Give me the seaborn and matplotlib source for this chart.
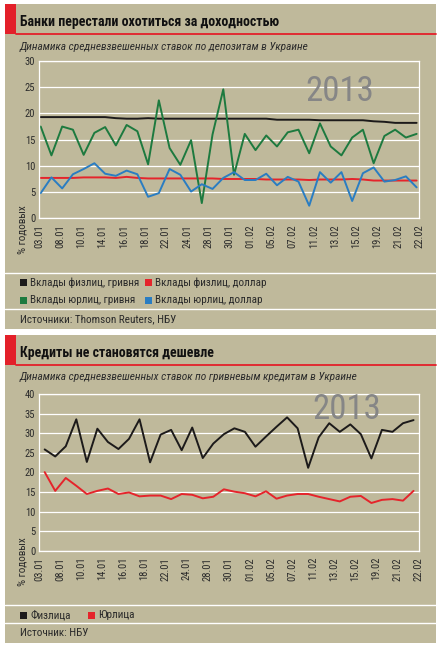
import numpy as np
import pandas as pd
import seaborn as sns
from matplotlib import pyplot as plt
from matplotlib.patches import Rectangle

#--------------------------Data---------------------------------------------
# trading days, 03.01.2013 - 22.02.2013
dates = ['03.01', '04.01', '08.01', '09.01', '10.01', '11.01', '14.01', '15.01',
         '16.01', '17.01', '18.01', '21.01', '22.01', '23.01', '24.01', '25.01',
         '28.01', '29.01', '30.01', '31.01', '01.02', '04.02', '05.02', '06.02',
         '07.02', '08.02', '11.02', '12.02', '13.02', '14.02', '15.02', '18.02',
         '19.02', '20.02', '21.02', '22.02']

tick_labels = ['03.01', '08.01', '10.01', '14.01', '16.01', '18.01', '22.01',
               '24.01', '28.01', '30.01', '01.02', '05.02', '07.02', '11.02',
               '13.02', '15.02', '19.02', '21.02', '22.02']

# chart 1: deposit rates, % annual
dep_fiz_uah = [19.3, 19.3, 19.3, 19.3, 19.3, 19.3, 19.3, 19.1, 19.0, 19.0,
               19.1, 19.0, 19.0, 19.0, 19.0, 19.0, 19.0, 19.0, 19.0, 19.0,
               19.0, 19.0, 18.8, 18.8, 18.8, 18.8, 18.7, 18.7, 18.7, 18.7,
               18.7, 18.5, 18.4, 18.2, 18.2, 18.2]
dep_fiz_usd = [7.7, 7.7, 7.7, 7.7, 7.8, 7.8, 7.8, 7.7, 7.9, 7.7, 7.6, 7.6,
               7.6, 7.6, 7.6, 7.6, 7.6, 7.5, 7.5, 7.5, 7.5, 7.4, 7.4, 7.4,
               7.4, 7.3, 7.4, 7.4, 7.4, 7.5, 7.4, 7.2, 7.2, 7.2, 7.2, 7.2]
dep_yur_uah = [17.5, 12.0, 17.5, 16.9, 12.1, 16.3, 17.4, 13.9, 17.8, 16.6,
               10.3, 22.5, 13.4, 10.2, 14.9, 2.9, 16.0, 24.6, 8.3, 16.1,
               13.0, 15.8, 13.7, 16.4, 16.9, 12.4, 18.1, 13.7, 12.0, 15.4,
               16.9, 10.5, 15.7, 16.9, 15.4, 16.1]
dep_yur_usd = [4.8, 7.8, 5.7, 8.4, 9.4, 10.5, 8.5, 8.1, 9.1, 8.4, 4.1, 4.8,
               9.4, 8.3, 5.1, 6.5, 5.6, 7.7, 8.8, 7.3, 7.3, 8.5, 6.3, 7.9,
               7.0, 2.4, 8.8, 6.8, 8.8, 3.3, 8.6, 9.7, 7.0, 7.3, 8.0, 5.9]

# chart 2: UAH loan rates, % annual
loan_fiz = [25.9, 24.1, 26.7, 33.6, 22.7, 31.2, 27.8, 26.0, 28.6, 33.6,
            22.6, 29.7, 30.9, 25.7, 31.5, 23.7, 27.4, 29.8, 31.3, 30.4,
            26.6, 29.2, 31.7, 34.1, 31.3, 21.2, 29.0, 32.6, 30.4, 32.3,
            29.8, 23.6, 30.9, 30.4, 32.6, 33.4]
loan_yur = [20.1, 15.3, 18.6, 16.6, 14.5, 15.3, 15.9, 14.5, 14.9, 13.9,
            14.1, 14.1, 13.2, 14.5, 14.3, 13.4, 13.8, 15.7, 15.1, 14.7,
            13.9, 15.2, 13.3, 14.1, 14.5, 14.5, 13.8, 13.2, 12.6, 13.8,
            14.0, 12.2, 13.0, 13.2, 12.8, 15.3]

names1 = ['Вклады физлиц, гривня', 'Вклады физлиц, доллар',
          'Вклады юрлиц, гривня', 'Вклады юрлиц, доллар']
colors1 = ['#1c1a1a', '#e5242b', '#1d7a3f', '#2a7dc2']
names2 = ['Физлица', 'Юрлица']
colors2 = ['#1c1a1a', '#e5242b']

#--------------------------Build dataframes----------------------------------
day = np.arange(len(dates))
deposits_df = pd.concat([pd.DataFrame({'day': day, 'rate': v, 'series': n})
                         for n, v in zip(names1, [dep_fiz_uah, dep_fiz_usd,
                                                  dep_yur_uah, dep_yur_usd])])
loans_df = pd.concat([pd.DataFrame({'day': day, 'rate': v, 'series': n})
                      for n, v in zip(names2, [loan_fiz, loan_yur])])

#--------------------------Style---------------------------------------------
BG = '#bfb99b'
TXT = '#2b2b2b'
sns.set_style('white')
plt.rcParams['font.family'] = ['DejaVu Sans Condensed', 'Liberation Sans Narrow',
                               'Roboto Condensed', 'DejaVu Sans']
plt.rcParams['font.stretch'] = 'condensed'

W, H = 441, 649
fig = plt.figure(figsize=(W / 100, H / 100), dpi=100, facecolor='white')


def fx(x):
    return x / W


def fy(y):
    return 1 - y / H


def rect(x0, y0, x1, y1, color):
    fig.patches.append(Rectangle((fx(x0), fy(y1)), (x1 - x0) / W, (y1 - y0) / H,
                                 transform=fig.transFigure, color=color, lw=0,
                                 zorder=-5))


def hline(y, color, lw):
    fig.add_artist(plt.Line2D([fx(5), fx(436)], [fy(y), fy(y)],
                              transform=fig.transFigure, color=color, lw=lw,
                              zorder=-4))


def header(top, title, subtitle):
    rect(5, top, 16, top + 30, '#e3202a')
    fig.add_artist(plt.Line2D([fx(16), fx(436)], [fy(top + 29.5)] * 2,
                              transform=fig.transFigure, color='#e3202a', lw=1.3,
                              zorder=-4))
    fig.text(fx(20), fy(top + 18), title, fontsize=10, fontweight='bold',
             color='#111111', va='center', ha='left')
    fig.text(fx(20), fy(top + 42.5), subtitle, fontsize=8.2, style='italic',
             color=TXT, va='center', ha='left')


def style_axis(ax, ymax, xlim):
    ax.set_facecolor('none')
    ax.set_ylim(0, ymax)
    ax.set_yticks(np.arange(0, ymax + 1, 5))
    ax.set_xlim(*xlim)
    ax.set_xticks(np.linspace(xlim[0], xlim[1], len(tick_labels)))
    ax.set_xticklabels(tick_labels, rotation=90)
    ax.grid(axis='y', color='white', lw=0.9)
    ax.set_axisbelow(True)
    for s in ax.spines.values():
        s.set_visible(True)
        s.set_color('white')
        s.set_linewidth(0.9)
    ax.tick_params(axis='x', colors='white', length=3, width=0.9, pad=1.5,
                   labelcolor=TXT, labelsize=7.6)
    ax.tick_params(axis='y', length=0, pad=3, labelcolor=TXT, labelsize=7.6)
    ax.set_xlabel('')
    ax.set_ylabel('% годовых', fontsize=8, color=TXT, va='center')
    # label sits low, next to the date labels
    ax.yaxis.set_label_coords(-0.043, -0.072)


def legend_row(y, items):
    for x, name, color in items:
        rect(x, y - 3.5, x + 7, y + 3.5, color)
        fig.text(fx(x + 10), fy(y), name, fontsize=8, color=TXT,
                 va='center', ha='left')


#--------------------------Panel 1: deposits---------------------------------
rect(5, 4, 436, 329, BG)
header(4, 'Банки перестали охотиться за доходностью',
       'Динамика средневзвешенных ставок по депозитам в Украине')

ax1 = fig.add_axes([fx(39.3), fy(218.3), 380 / W, (218.3 - 61) / H])
sns.lineplot(data=deposits_df, x='day', y='rate', hue='series',
             palette=dict(zip(names1, colors1)), hue_order=names1,
             linewidth=1.4, legend=False, ax=ax1)
style_axis(ax1, 30, (-0.13, 35.25))
ax1.text(0.79, 0.805, '2013', transform=ax1.transAxes, fontsize=25,
         color='#868686', ha='center', va='center')

hline(273.3, 'white', 1)
legend_row(282.7, [(20, names1[0], colors1[0]), (145, names1[1], colors1[1])])
legend_row(300, [(20, names1[2], colors1[2]), (145, names1[3], colors1[3])])
hline(309.3, 'white', 1)
fig.text(fx(20), fy(319), 'Источники: Thomson Reuters, НБУ', fontsize=8,
         color=TXT, va='center', ha='left')

#--------------------------Panel 2: loans------------------------------------
rect(5, 335, 436, 643, BG)
header(335, 'Кредиты не становятся дешевле',
       'Динамика средневзвешенных ставок по гривневым кредитам в Украине')

ax2 = fig.add_axes([fx(39.3), fy(550.7), 379.2 / W, (550.7 - 394.3) / H])
sns.lineplot(data=loans_df, x='day', y='rate', hue='series',
             palette=dict(zip(names2, colors2)), hue_order=names2,
             linewidth=1.4, legend=False, ax=ax2)
style_axis(ax2, 40, (-0.51, 35.47))
ax2.text(0.81, 0.9, '2013', transform=ax2.transAxes, fontsize=25,
         color='#868686', ha='center', va='center')

hline(605, 'white', 1)
legend_row(615, [(20, names2[0], colors2[0]), (88, names2[1], colors2[1])])
hline(623.3, 'white', 1)
fig.text(fx(20), fy(633.3), 'Источник: НБУ', fontsize=8, color=TXT,
         va='center', ha='left')

fig.savefig('out.png', dpi=100, facecolor='white')
